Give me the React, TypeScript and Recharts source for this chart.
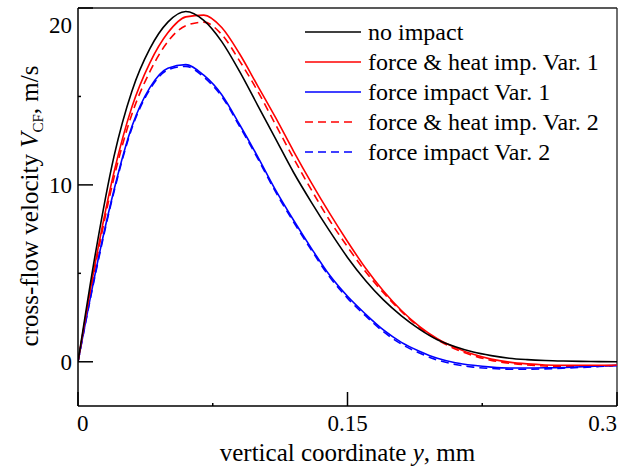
import React from "react";
import {
  LineChart,
  Line,
  XAxis,
  YAxis,
  ReferenceLine,
  Label,
} from "recharts";

// vertical coordinate y, mm
const yCoord = [
  0, 0.01, 0.02, 0.03, 0.04, 0.05, 0.06, 0.07, 0.08, 0.09, 0.1, 0.11, 0.12, 0.13,
  0.14, 0.15, 0.16, 0.17, 0.18, 0.19, 0.2, 0.21, 0.22, 0.23, 0.24, 0.25, 0.26,
  0.27, 0.28, 0.29, 0.3,
];

// cross-flow velocity V_CF, m/s
const noImpact = [
  0, 6.3, 11.6, 15.3, 17.7, 19.2, 19.8, 19.3, 18.1, 16.4, 14.5, 12.6, 10.7, 9.0,
  7.4, 5.9, 4.6, 3.5, 2.6, 1.85, 1.25, 0.85, 0.55, 0.35, 0.2, 0.12, 0.07, 0.04,
  0.02, 0.01, 0,
];
const forceHeatVar1 = [
  0, 5.8, 10.7, 14.4, 16.9, 18.6, 19.5, 19.6, 18.9, 17.4, 15.6, 13.8, 11.9, 10.1,
  8.4, 6.8, 5.3, 4.0, 2.9, 2.0, 1.3, 0.8, 0.42, 0.15, -0.02, -0.12, -0.18, -0.2,
  -0.2, -0.2, -0.18,
];
const forceVar1 = [
  0, 5.2, 9.7, 13.3, 15.5, 16.6, 16.8, 16.2, 15.1, 13.4, 11.6, 9.7, 8.0, 6.4,
  4.9, 3.7, 2.7, 1.8, 1.1, 0.6, 0.2, -0.05, -0.2, -0.3, -0.35, -0.35, -0.34,
  -0.32, -0.28, -0.24, -0.2,
];
const forceHeatVar2 = [
  0, 5.6, 10.4, 14.0, 16.4, 18.1, 19.0, 19.2, 18.5, 17.0, 15.3, 13.4, 11.5, 9.7,
  8.0, 6.5, 5.1, 3.9, 2.85, 1.95, 1.25, 0.72, 0.35, 0.08, -0.08, -0.18, -0.24,
  -0.26, -0.26, -0.24, -0.22,
];
const forceVar2 = [
  0, 5.1, 9.6, 13.2, 15.4, 16.5, 16.7, 16.1, 15.0, 13.3, 11.5, 9.6, 7.9, 6.3,
  4.8, 3.6, 2.6, 1.7, 1.0, 0.5, 0.1, -0.15, -0.3, -0.38, -0.42, -0.42, -0.4,
  -0.36, -0.32, -0.27, -0.22,
];

const xTicks = [0, 0.075, 0.15, 0.225, 0.3];
const xLabels = [0, 0.15, 0.3];
const yTicks = [0, 5, 10, 15, 20];
const yLabels = [0, 10, 20];

const series = [
  { key: "noImpact", name: "no impact", color: "#000000", dash: undefined },
  { key: "forceHeatVar1", name: "force & heat imp. Var. 1", color: "#ff0000", dash: undefined },
  { key: "forceVar1", name: "force impact Var. 1", color: "#0000ff", dash: undefined },
  { key: "forceHeatVar2", name: "force & heat imp. Var. 2", color: "#ff0000", dash: "8 5" },
  { key: "forceVar2", name: "force impact Var. 2", color: "#0000ff", dash: "8 5" },
];

const data = yCoord.map((y, i) => ({
  y,
  noImpact: noImpact[i],
  forceHeatVar1: forceHeatVar1[i],
  forceVar1: forceVar1[i],
  forceHeatVar2: forceHeatVar2[i],
  forceVar2: forceVar2[i],
}));

const serif = {
  fontFamily:
    '"Liberation Serif", "Times New Roman", Tinos, "Noto Serif", "DejaVu Serif", Times, serif',
};

function XTick(props: any) {
  const { x, y, payload } = props;
  const v = payload.value;
  const major = xLabels.includes(v);
  const anchor = v === 0 ? "start" : v === 0.3 ? "end" : "middle";
  return (
    <g>
      <line x1={x} x2={x} y1={y} y2={y - (major ? 14 : 3)} stroke="#000" strokeWidth={1.5} />
      {major && (
        <text x={v === 0 ? x - 1 : x} y={y + 25} textAnchor={anchor} fontSize={23} style={serif} fill="#000">
          {v}
        </text>
      )}
    </g>
  );
}

function YTick(props: any) {
  const { x, y, payload } = props;
  const v = payload.value;
  const major = yLabels.includes(v);
  return (
    <g>
      <line x1={x} x2={x + (major ? 15 : 3)} y1={y} y2={y} stroke="#000" strokeWidth={1.5} />
      {major && (
        <text x={x - 6} y={v === 20 ? y + 25 : y + 8} textAnchor="end" fontSize={23} style={serif} fill="#000">
          {v}
        </text>
      )}
    </g>
  );
}

function XTitle(props: any) {
  const { viewBox } = props;
  const cx = viewBox.x + viewBox.width / 2;
  return (
    <text x={cx} y={461} textAnchor="middle" fontSize={25} style={serif} fill="#000">
      vertical coordinate <tspan fontStyle="italic">y</tspan>, mm
    </text>
  );
}

function YTitle() {
  return (
    <text
      transform="translate(38, 206) rotate(-90)"
      textAnchor="middle"
      fontSize={25}
      style={serif}
      fill="#000"
    >
      cross-flow velocity <tspan fontStyle="italic">V</tspan>
      <tspan fontSize={15} dy={5}>CF</tspan>
      <tspan dy={-5}>, m/s</tspan>
    </text>
  );
}

function LegendBox() {
  return (
    <svg
      width={320}
      height={160}
      style={{ position: "absolute", left: 305, top: 8, overflow: "visible" }}
    >
      {series.map((s, i) => {
        const cy = 24 + i * 30;
        return (
          <g key={s.key}>
            <line
              x1={0}
              x2={s.dash ? 50 : 56}
              y1={cy}
              y2={cy}
              stroke={s.color}
              strokeWidth={1.6}
              strokeDasharray={s.dash}
            />
            <text x={63} y={cy + 8} fontSize={24} style={serif} fill="#000">
              {s.name}
            </text>
          </g>
        );
      })}
    </svg>
  );
}

export default function App() {
  return (
    <div style={{ position: "absolute", left: 0, top: 0, width: 637, height: 471, background: "#fff" }}>
      <LineChart width={637} height={471} data={data} margin={{ top: 8, right: 20, left: 0, bottom: 0 }}>
        <XAxis
          dataKey="y"
          type="number"
          domain={[0, 0.3]}
          ticks={xTicks}
          interval={0}
          allowDataOverflow
          height={65}
          tickSize={0}
          tickMargin={0}
          tickLine={false}
          tick={<XTick />}
          axisLine={{ stroke: "#000", strokeWidth: 1.5 }}
        >
          <Label content={<XTitle />} />
        </XAxis>
        <YAxis
          type="number"
          domain={[-2.5, 20]}
          ticks={yTicks}
          interval={0}
          allowDataOverflow
          width={78}
          tickSize={0}
          tickMargin={0}
          tickLine={false}
          tick={<YTick />}
          axisLine={{ stroke: "#000", strokeWidth: 1.5 }}
        >
          <Label content={<YTitle />} />
        </YAxis>
        <ReferenceLine y={20} stroke="#222" strokeWidth={1.3} />
        <ReferenceLine x={0.3} stroke="#222" strokeWidth={1.3} />
        {series
          .slice()
          .reverse()
          .map((s) => (
            <Line
              key={s.key}
              dataKey={s.key}
              name={s.name}
              type="monotone"
              stroke={s.color}
              strokeWidth={1.6}
              strokeDasharray={s.dash}
              dot={false}
              isAnimationActive={false}
            />
          ))}
      </LineChart>
      <LegendBox />
    </div>
  );
}
